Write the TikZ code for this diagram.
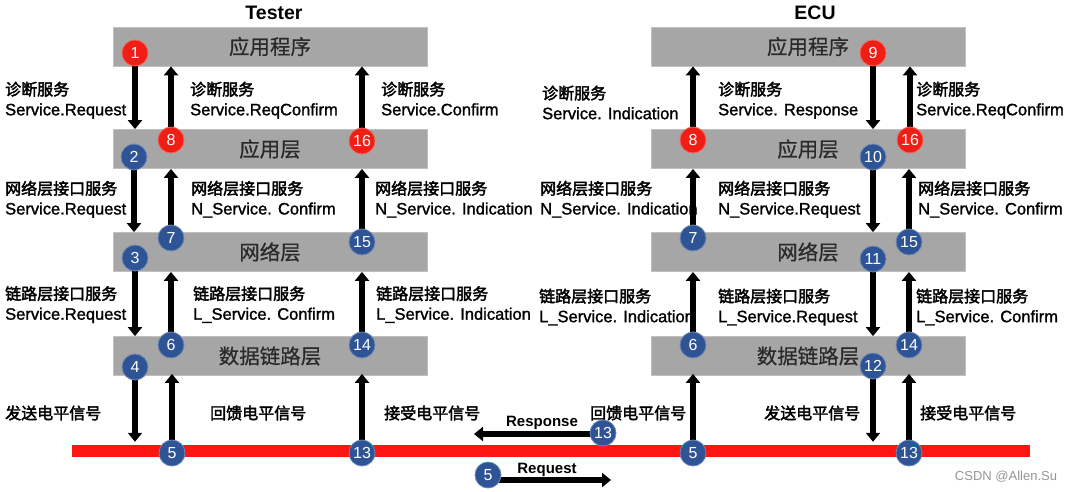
\documentclass[tikz,border=0pt]{standalone}
\usepackage{fontspec}
\setmainfont{Liberation Sans}
\newfontfamily\cjkr[FakeBold=0.6]{Noto Sans CJK SC}
\newfontfamily\cjkb[FakeBold=2.4]{Noto Sans CJK SC}
\newfontfamily\labf[FakeBold=1.4]{Liberation Sans}
\usetikzlibrary{arrows.meta}
\definecolor{boxgray}{RGB}{166,166,166}
\definecolor{boxedge}{RGB}{192,192,192}
\definecolor{cred}{RGB}{240,30,20}
\definecolor{cblue}{RGB}{46,84,150}
\definecolor{busred}{RGB}{252,22,18}
\definecolor{txtgray}{RGB}{42,42,42}
\definecolor{wmgray}{RGB}{150,150,150}
\tikzset{
  layerbox/.style={draw=boxedge, line width=0.8pt, fill=boxgray, minimum width=314pt,
    minimum height=39pt, inner sep=0pt, text=txtgray, font=\cjkr\fontsize{20.5}{24}\selectfont},
  numc/.style={circle, minimum size=26pt, inner sep=0pt, text=white, line width=0.8pt,
    font=\fontsize{16}{16}\selectfont},
  redc/.style={numc, fill=cred, draw=cred!70!white},
  bluec/.style={numc, fill=cblue, draw=cblue!70!white},
  arr/.style={line width=6pt, draw=black, -{Triangle[width=14pt,length=9pt]}},
  lab/.style={anchor=north west, align=left, inner sep=0pt, text=black, font=\fontsize{16}{20}\selectfont},
  blab/.style={anchor=west, inner sep=0pt, text=black, font=\cjkb\fontsize{16}{20}\selectfont},
  ttl/.style={anchor=base, inner sep=0pt, font=\bfseries\fontsize{19.5}{22}\selectfont},
  msg/.style={anchor=base, inner sep=0pt, font=\bfseries\fontsize{15}{18}\selectfont},
}
\newcommand{\CJ}[1]{{\cjkb\fontsize{16}{20}\selectfont #1}}
\newcommand{\EN}[1]{{\labf\fontsize{16.5}{20}\selectfont #1}}
\begin{document}
\begin{tikzpicture}[x=1pt,y=-1pt]
\useasboundingbox (0,0) rectangle (1071,491);
\fill[white] (0,0) rectangle (1071,491);

% titles
\node[ttl] (tT) at (274,19) {Tester};
\node[ttl] (tE) at (815,19) {ECU};

% layer boxes
\node[layerbox] (L1) at (270,46.5) {应用程序};
\node[layerbox] (L2) at (270,149) {应用层};
\node[layerbox] (L3) at (270,252) {网络层};
\node[layerbox] (L4) at (270,356) {数据链路层};
\node[layerbox] (R1) at (808,46.5) {应用程序};
\node[layerbox] (R2) at (808,149) {应用层};
\node[layerbox] (R3) at (808,252) {网络层};
\node[layerbox] (R4) at (808,356) {数据链路层};

% bus
\node[fill=busred, minimum width=958pt, minimum height=12pt, inner sep=0pt] (bus) at (551,451) {};

% labels left
\node[lab] (la1) at (5,81.6) {\CJ{诊断服务}\\\EN{Service.Request}};
\node[lab] (lb1) at (190,81.6) {\CJ{诊断服务}\\\EN{Service.ReqConfirm}};
\node[lab] (lc1) at (381,81.6) {\CJ{诊断服务}\\\EN{Service.Confirm}};
\node[lab] (la2) at (5,180.6) {\CJ{网络层接口服务}\\\EN{Service.Request}};
\node[lab] (lb2) at (191,180.6) {\CJ{网络层接口服务}\\\EN{N\_Service. Confirm}};
\node[lab] (lc2) at (375,180.6) {\CJ{网络层接口服务}\\\EN{N\_Service. Indication}};
\node[lab] (la3) at (5,286) {\CJ{链路层接口服务}\\\EN{Service.Request}};
\node[lab] (lb3) at (193,286) {\CJ{链路层接口服务}\\\EN{L\_Service. Confirm}};
\node[lab] (lc3) at (376,286) {\CJ{链路层接口服务}\\\EN{L\_Service. Indication}};
\node[blab] (la4) at (5,413) {发送电平信号};
\node[blab] (lb4) at (210,413) {回馈电平信号};
\node[blab] (lc4) at (384,413) {接受电平信号};

% labels right
\node[lab] (ra1) at (542,85.5) {\CJ{诊断服务}\\\EN{Service. Indication}};
\node[lab] (rb1) at (718,81.6) {\CJ{诊断服务}\\\EN{Service. Response}};
\node[lab] (rc1) at (916,81.6) {\CJ{诊断服务}\\\EN{Service.ReqConfirm}};
\node[lab] (ra2) at (540,180.6) {\CJ{网络层接口服务}\\\EN{N\_Service. Indication}};
\node[lab] (rb2) at (718,180.6) {\CJ{网络层接口服务}\\\EN{N\_Service.Request}};
\node[lab] (rc2) at (918,180.6) {\CJ{网络层接口服务}\\\EN{N\_Service. Confirm}};
\node[lab] (ra3) at (539,288.5) {\CJ{链路层接口服务}\\\EN{L\_Service. Indication}};
\node[lab] (rb3) at (718,288.5) {\CJ{链路层接口服务}\\\EN{L\_Service.Request}};
\node[lab] (rc3) at (916,288.5) {\CJ{链路层接口服务}\\\EN{L\_Service. Confirm}};
\node[blab] (ra4) at (590,413) {回馈电平信号};
\node[blab] (rb4) at (764,413) {发送电平信号};
\node[blab] (rc4) at (920,413) {接受电平信号};

% circle positions (coordinates first, circles drawn after arrows)
\coordinate (pL1) at (135,53);
\coordinate (pL8) at (171,140);
\coordinate (pL16) at (362,141);
\coordinate (pL2) at (134,157);
\coordinate (pL7) at (171,238);
\coordinate (pL15) at (362,242);
\coordinate (pL3) at (135,258);
\coordinate (pL6) at (171,345);
\coordinate (pL14) at (362,345);
\coordinate (pL4) at (135,367);
\coordinate (pL5) at (172,453);
\coordinate (pL13) at (362,453);
\coordinate (pR9) at (873,53);
\coordinate (pR8) at (693,140);
\coordinate (pR16) at (910,140);
\coordinate (pR10) at (873,157);
\coordinate (pR7) at (693,238);
\coordinate (pR15) at (909,242);
\coordinate (pR11) at (873,259);
\coordinate (pR6) at (693,345);
\coordinate (pR14) at (909,345);
\coordinate (pR12) at (873,366);
\coordinate (pR5) at (693,453);
\coordinate (pR13) at (909,453);
\coordinate (pM13) at (603,433);
\coordinate (pM5) at (488,475);
\coordinate (respEnd) at (474,434);
\coordinate (reqEnd) at (611,480);

% arrows left
\draw[arr] (pL1) -- (pL1 |- L2.north);
\draw[arr] (pL8) -- (pL8 |- L1.south);
\draw[arr] (pL16) -- (pL16 |- L1.south);
\draw[arr] (pL2) -- (pL2 |- L3.north);
\draw[arr] (pL7) -- (pL7 |- L2.south);
\draw[arr] (pL15) -- (pL15 |- L2.south);
\draw[arr] (pL3) -- (pL3 |- L4.north);
\draw[arr] (pL6) -- (pL6 |- L3.south);
\draw[arr] (pL14) -- (pL14 |- L3.south);
\draw[arr, shorten >=3pt] (pL4) -- (pL4 |- bus.north);
\draw[arr, shorten >=-2pt] (pL5) -- (pL5 |- L4.south);
\draw[arr, shorten >=-2pt] (pL13) -- (pL13 |- L4.south);
% arrows right
\draw[arr] (pR9) -- (pR9 |- R2.north);
\draw[arr] (pR8) -- (pR8 |- R1.south);
\draw[arr] (pR16) -- (pR16 |- R1.south);
\draw[arr] (pR10) -- (pR10 |- R3.north);
\draw[arr] (pR7) -- (pR7 |- R2.south);
\draw[arr] (pR15) -- (pR15 |- R2.south);
\draw[arr] (pR11) -- (pR11 |- R4.north);
\draw[arr] (pR6) -- (pR6 |- R3.south);
\draw[arr] (pR14) -- (pR14 |- R3.south);
\draw[arr, shorten >=3pt] (pR12) -- (pR12 |- bus.north);
\draw[arr, shorten >=-2pt] (pR5) -- (pR5 |- R4.south);
\draw[arr, shorten >=-2pt] (pR13) -- (pR13 |- R4.south);
% middle messages
\draw[arr] (pM13 |- respEnd) -- (respEnd);
\draw[arr] (pM5 |- reqEnd) -- (reqEnd);
\node[msg] (resp) at (542,426) {Response};
\node[msg] (req) at (547,473.5) {Request};

% circles left
\node[redc] (cL1) at (pL1) {1};
\node[redc] (cL8) at (pL8) {8};
\node[redc] (cL16) at (pL16) {16};
\node[bluec] (cL2) at (pL2) {2};
\node[bluec] (cL7) at (pL7) {7};
\node[bluec] (cL15) at (pL15) {15};
\node[bluec] (cL3) at (pL3) {3};
\node[bluec] (cL6) at (pL6) {6};
\node[bluec] (cL14) at (pL14) {14};
\node[bluec] (cL4) at (pL4) {4};
\node[bluec] (cL5) at (pL5) {5};
\node[bluec] (cL13) at (pL13) {13};
% circles right
\node[redc] (cR9) at (pR9) {9};
\node[redc] (cR8) at (pR8) {8};
\node[redc] (cR16) at (pR16) {16};
\node[bluec] (cR10) at (pR10) {10};
\node[bluec] (cR7) at (pR7) {7};
\node[bluec] (cR15) at (pR15) {15};
\node[bluec] (cR11) at (pR11) {11};
\node[bluec] (cR6) at (pR6) {6};
\node[bluec] (cR14) at (pR14) {14};
\node[bluec] (cR12) at (pR12) {12};
\node[bluec] (cR5) at (pR5) {5};
\node[bluec] (cR13) at (pR13) {13};
% circles middle
\node[bluec] (cM13) at (pM13) {13};
\node[bluec] (cM5) at (pM5) {5};

% watermark
\node[text=wmgray, inner sep=0pt, font=\fontsize{13}{15}\selectfont] (wm) at (1006,477) {CSDN @Allen.Su};
\end{tikzpicture}
\end{document}
